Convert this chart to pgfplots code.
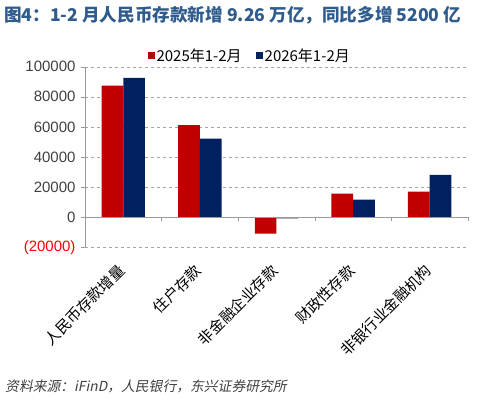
\documentclass[border=0pt]{standalone}
\usepackage{pgfplots}
\pgfplotsset{compat=1.18}
\usepackage{fontspec}
\setmainfont{Liberation Sans}
\newfontfamily\cjk{Noto Sans CJK SC}
\newfontfamily\cjkit[FakeSlant=0.2]{Noto Sans CJK SC}
\definecolor{barred}{HTML}{C00000}
\definecolor{barblue}{HTML}{002060}
\definecolor{titleblue}{HTML}{2F5C8C}
\definecolor{txtgray}{HTML}{404040}
\begin{document}
\begin{tikzpicture}[x=1pt,y=1pt]
\useasboundingbox (0,0) rectangle (480,400);
\node[anchor=west, text=titleblue, font=\cjk\bfseries\fontsize{17.6}{19}\selectfont, inner sep=0pt] at (4,385) {图4：1-2 月人民币存款新增 9.26 万亿，同比多增 5200 亿};
\node[anchor=west, text=txtgray, font=\cjkit\fontsize{13.8}{15}\selectfont, inner sep=0pt] at (5,14) {资料来源：iFinD，人民银行，东兴证券研究所};
\begin{axis}[
  at={(85pt,152.7pt)}, anchor=south west,
  scale only axis, width=383pt, height=180.6pt,
  ybar=0pt, bar width=21.7pt,
  xmin=-0.5, xmax=4.5, ymin=-20000, ymax=100000,
  ytick={-20000,0,20000,40000,60000,80000,100000},
  yticklabels={{\textcolor{red}{(20000)}},0,20000,40000,60000,80000,100000},
  scaled y ticks=false,
  /pgf/number format/assume math mode=true,
  xtick={0,1,2,3,4},
  xticklabels={人民币存款增量,住户存款,非金融企业存款,财政性存款,非银行业金融机构},
  xticklabel style={font=\cjk\fontsize{15}{17}\selectfont, xshift=1pt, yshift=-14pt, rotate=45, anchor=east, text=black},
  yticklabel style={font=\fontsize{15}{17}\selectfont, text=txtgray, xshift=-2pt},
  axis lines=left,
  x axis line style={draw=none},
  y axis line style={gray!80, -},
  xtick style={draw=none},
  ytick style={gray!80, thin},
  tick align=outside, major tick length=4pt,
  ymajorgrids, grid style={dashed, gray!70},
  clip=false,
  legend style={at={(0.43,1.0)}, anchor=south, draw=none, fill=none, font=\cjk\fontsize{15}{17}\selectfont, legend columns=2, /tikz/every even column/.append style={column sep=12pt}},
  legend image code/.code={\fill[#1] (0pt,-3.5pt) rectangle (7pt,3.5pt);},
]
\addplot[fill=barred, draw=none] coordinates {(0,87400) (1,61100) (2,-10900) (3,15700) (4,17000)};
\addplot[fill=barblue, draw=none] coordinates {(0,92600) (1,52200) (2,-700) (3,11700) (4,28100)};
\legend{2025年1-2月,2026年1-2月}
\draw[gray!80] (axis cs:-0.5,0) -- (axis cs:4.5,0);
\draw[gray!80] (axis cs:0.5,0) -- (axis cs:0.5,-2600);
\draw[gray!80] (axis cs:1.5,0) -- (axis cs:1.5,-2600);
\draw[gray!80] (axis cs:2.5,0) -- (axis cs:2.5,-2600);
\draw[gray!80] (axis cs:3.5,0) -- (axis cs:3.5,-2600);
\draw[gray!80] (axis cs:4.5,0) -- (axis cs:4.5,-2600);
\end{axis}
\end{tikzpicture}
\end{document}
